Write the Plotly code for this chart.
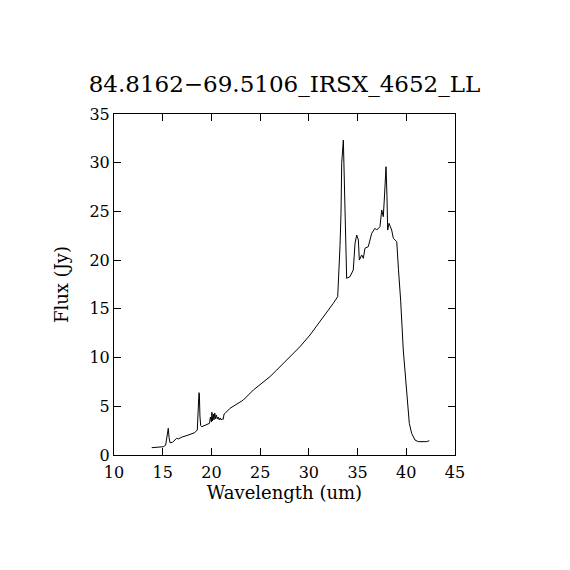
import plotly.graph_objects as go

# Spectrum
wavelength = [13.87, 14.5, 15.06, 15.3, 15.45, 15.57, 15.65, 15.75, 16.0, 16.2, 16.43, 16.6,
              17.0, 17.5, 18.0, 18.3, 18.55, 18.65, 18.72, 18.76, 18.82, 18.9, 19.0, 19.4,
              19.8, 19.9, 20.0, 20.05, 20.1, 20.2, 20.25, 20.35, 20.4, 20.5, 20.6, 20.7,
              20.8, 20.9, 21.0, 21.1, 21.2, 21.3, 21.4, 21.9, 22.93, 23.27, 24.3, 25.0,
              26.01, 26.7, 27.4, 28.06, 29.09, 30.12, 31.14, 31.83, 32.51, 32.96, 33.09,
              33.2, 33.3, 33.37, 33.54, 33.6, 33.71, 33.88, 34.22, 34.56, 34.74, 34.91,
              35.08, 35.18, 35.42, 35.59, 35.76, 36.1, 36.45, 36.79, 36.96, 37.3, 37.48,
              37.64, 37.74, 37.92, 38.02, 38.09, 38.23, 38.5, 38.67, 39.02, 39.2, 39.42,
              39.69, 40.04, 40.31, 40.55, 40.89, 41.23, 42.09, 42.36]
flux = [0.75, 0.8, 0.85, 1.0, 1.8, 2.74, 1.8, 1.26, 1.3, 1.45, 1.71, 1.65,
        1.85, 2.0, 2.15, 2.3, 2.57, 4.5, 6.4, 6.3, 4.0, 3.0, 2.9, 3.05,
        3.25, 3.9, 3.4, 4.4, 3.5, 4.2, 3.6, 4.3, 3.7, 4.1, 3.7, 3.9,
        3.6, 3.8, 3.6, 3.7, 3.65, 4.2, 4.27, 4.79, 5.37, 5.64, 6.67, 7.2,
        8.04, 8.72, 9.4, 10.09, 11.12, 12.32, 13.68, 14.54, 15.57, 16.25, 18.65,
        21.5, 24.8, 29.94, 32.33, 29.6, 24.8, 18.14, 18.3, 18.99, 21.73, 22.58,
        22.07, 20.01, 20.53, 20.19, 21.22, 21.38, 22.75, 23.27, 23.09, 23.43, 25.15,
        24.46, 26.17, 29.59, 26.51, 23.09, 23.78, 23.09, 22.24, 21.9, 19.0, 15.9,
        10.78, 6.33, 3.25, 2.23, 1.54, 1.37, 1.37, 1.47]

title_text = "84.8162\u221269.5106_IRSX_4652_LL"
x_label = "Wavelength (um)"
y_label = "Flux (Jy)"
x_ticks = [10, 15, 20, 25, 30, 35, 40, 45]
y_ticks = [0, 5, 10, 15, 20, 25, 30, 35]

font_family = "DejaVu Serif"

fig = go.Figure()
fig.add_trace(go.Scatter(x=wavelength, y=flux, mode="lines",
                         line=dict(color="black", width=1), showlegend=False,
                         hoverinfo="skip"))

axis_common = dict(showgrid=False, zeroline=False, showline=True, linecolor="black",
                   linewidth=1, mirror="ticks", ticks="inside", ticklen=7,
                   tickcolor="black", tickwidth=1,
                   tickfont=dict(family=font_family, size=16, color="black"))

fig.update_xaxes(range=[10, 45], tickvals=x_ticks, ticktext=[str(v) for v in x_ticks],
                 ticklabelstandoff=3,
                 title=dict(text=x_label, font=dict(family=font_family, size=18, color="black"),
                            standoff=5),
                 **axis_common)
fig.update_yaxes(range=[0, 35], tickvals=y_ticks, ticktext=[str(v) for v in y_ticks],
                 title=dict(text=y_label, font=dict(family=font_family, size=18, color="black"),
                            standoff=16),
                 **axis_common)

fig.update_layout(
    width=570, height=570,
    margin=dict(l=106, r=123, t=106, b=123),
    paper_bgcolor="white", plot_bgcolor="white",
    title=dict(text=title_text, x=(106 + 341 / 2) / 570, xanchor="center", y=0.866,
               yanchor="middle",
               font=dict(family=font_family, size=23, color="black")),
)

fig.write_html("out.html")
